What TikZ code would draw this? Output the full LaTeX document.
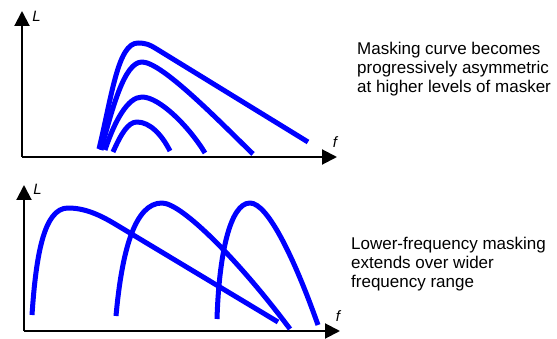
\documentclass[tikz,border=0pt]{standalone}
\usepackage{fontspec}
\setmainfont{Liberation Sans}
\usetikzlibrary{arrows.meta}
\tikzset{
  axis/.style={line width=2pt, -{Triangle[length=15pt,width=15pt]}},
  mcurve/.style={line width=5pt, color=mblue, line cap=butt, line join=round},
  axlabel/.style={font=\fontsize{15pt}{17pt}\selectfont\itshape, inner sep=0pt},
  note/.style={font=\fontsize{17pt}{19pt}\selectfont, align=left, inner sep=0pt, anchor=north west},
}
\definecolor{mblue}{RGB}{0,0,255}
\begin{document}
\begin{tikzpicture}[x=1pt,y=-1pt]
\useasboundingbox (0,0) rectangle (557,339);
% ---- top panel ----
\coordinate (o1) at (22,157);
\coordinate (y1) at (22,11);
\coordinate (x1) at (337,157);
\draw[axis] (o1) -- (y1);
\draw[axis] (o1) -- (x1);
\node[axlabel] (L1) at (36.5,16.5) {L};
\node[axlabel] (f1) at (335,142) {f};
\draw[mcurve] (99,149) .. controls (112,95) and (118,43) .. (138,43)
  .. controls (146,43) and (150,45) .. (155,48) -- (308,142);
\draw[mcurve] (101,150) .. controls (112,110) and (124,62) .. (142,62)
  .. controls (162,62) and (220,122) .. (253,154);
\draw[mcurve] (105,150) .. controls (115,120) and (128,97) .. (142,97)
  .. controls (160,97) and (190,128) .. (205,153);
\draw[mcurve] (113,152) .. controls (121,134) and (128,122) .. (137,122)
  .. controls (150,122) and (162,135) .. (170,151);
\node[note] (t1) at (357,42) {Masking curve becomes\\progressively asymmetric\\at higher levels of masker};
% ---- bottom panel ----
\coordinate (o2) at (24,331);
\coordinate (y2) at (24,185);
\coordinate (x2) at (340,331);
\draw[axis] (o2) -- (y2);
\draw[axis] (o2) -- (x2);
\node[axlabel] (L2) at (37.5,189) {L};
\node[axlabel] (f2) at (338,316) {f};
\draw[mcurve] (32,315) .. controls (36,255) and (44,208) .. (68,208)
  .. controls (85,208) and (100,215) .. (115,224) -- (278,322);
\draw[mcurve] (116,316) .. controls (122,250) and (135,203) .. (162,203)
  .. controls (182,203) and (240,262) .. (290,329);
\draw[mcurve] (217,319) .. controls (219,255) and (230,203) .. (250,203)
  .. controls (268,203) and (295,260) .. (318,325);
\node[note] (t2) at (351,237) {Lower-frequency masking\\extends over wider\\frequency range};
\end{tikzpicture}
\end{document}
